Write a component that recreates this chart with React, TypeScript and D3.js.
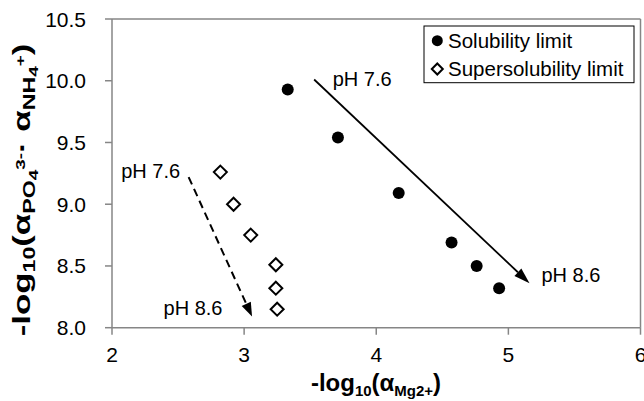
import React from "react";
import * as d3 from "d3";

const solX = [3.33, 3.71, 4.17, 4.57, 4.76, 4.93];
const solY = [9.93, 9.54, 9.09, 8.69, 8.5, 8.32];
const supX = [2.82, 2.92, 3.05, 3.24, 3.24, 3.25];
const supY = [9.26, 9.0, 8.75, 8.51, 8.32, 8.15];
const xTicks = [2, 3, 4, 5, 6];
const yTicks = [8.0, 8.5, 9.0, 9.5, 10.0, 10.5];
const arrows = [
  { x1: 3.53, y1: 10.01, x2: 5.16, y2: 8.36, dashed: false },
  { x1: 2.58, y1: 9.22, x2: 3.06, y2: 8.09, dashed: true },
];
const notes = [
  { x: 3.67, y: 9.96, text: "pH 7.6" },
  { x: 5.25, y: 8.37, text: "pH 8.6" },
  { x: 2.07, y: 9.21, text: "pH 7.6" },
  { x: 2.39, y: 8.1, text: "pH 8.6" },
];
const legendItems = ["Solubility limit", "Supersolubility limit"];

const W = 644;
const H = 401;
const L = 112, R = 640.5, T = 19, B = 327.7;
const FONT = "'Liberation Sans', Arial, sans-serif";
const AX = "#868686";

export default function App() {
  const x = d3.scaleLinear().domain([2, 6]).range([L, R]);
  const y = d3.scaleLinear().domain([8, 10.5]).range([B, T]);
  const diamond = (cx: number, cy: number, r: number) =>
    `M${cx},${cy - r}L${cx + r},${cy}L${cx},${cy + r}L${cx - r},${cy}Z`;

  const head = (a: typeof arrows[0], len: number, wid: number) => {
    const X1 = x(a.x1), Y1 = y(a.y1), X2 = x(a.x2), Y2 = y(a.y2);
    const dx = X2 - X1, dy = Y2 - Y1;
    const d = Math.hypot(dx, dy);
    const ux = dx / d, uy = dy / d;
    const bx = X2 - ux * len, by = Y2 - uy * len;
    const px = -uy * wid / 2, py = ux * wid / 2;
    return { X1, Y1, bx, by, pts: `${X2},${Y2} ${bx + px},${by + py} ${bx - px},${by - py}` };
  };

  return (
    <svg width={W} height={H} style={{ position: "absolute", left: 0, top: 0, background: "#fff" }} fontFamily={FONT}>
      <rect x={0} y={0} width={W} height={H} fill="#fff" />
      {/* frame */}
      <line x1={L} y1={T} x2={R} y2={T} stroke={AX} strokeWidth={1.5} />
      <line x1={R} y1={T} x2={R} y2={B} stroke={AX} strokeWidth={1.5} />
      <line x1={L} y1={B} x2={R} y2={B} stroke={AX} strokeWidth={1.5} />
      <line x1={L} y1={T} x2={L} y2={B} stroke={AX} strokeWidth={1.5} />
      {xTicks.map((t) => (
        <g key={"xt" + t}>
          <line x1={x(t)} x2={x(t)} y1={B} y2={B + 7} stroke={AX} strokeWidth={1.5} />
          <text x={x(t)} y={362} fontSize={21} textAnchor="middle" fill="#000">{t}</text>
        </g>
      ))}
      {yTicks.map((t) => (
        <g key={"yt" + t}>
          <line x1={L - 7} x2={L} y1={y(t)} y2={y(t)} stroke={AX} strokeWidth={1.5} />
          <text x={86} y={y(t) + 7.5} fontSize={21} textAnchor="end" fill="#000">{t.toFixed(1)}</text>
        </g>
      ))}
      {/* axis titles */}
      <text x={376} y={391} fontSize={24} fontWeight="bold" textAnchor="middle" fill="#000">
        -log<tspan fontSize={15} dy={5}>10</tspan>
        <tspan dy={-5}>(α</tspan>
        <tspan fontSize={15} dy={5}>Mg2+</tspan>
        <tspan dy={-5}>)</tspan>
      </text>
      <text transform={`translate(30,190) rotate(-90) scale(1.45,1)`} fontSize={24} fontWeight="bold" textAnchor="middle" fill="#000">
        -log<tspan fontSize={16} dy={5}>10</tspan>
        <tspan dy={-5}>(α</tspan>
        <tspan fontSize={16} dy={5}>PO</tspan>
        <tspan fontSize={13} dy={3}>4</tspan>
        <tspan fontSize={13} dy={-13}>3-</tspan>
        <tspan dy={5}>·  α</tspan>
        <tspan fontSize={16} dy={5}>NH</tspan>
        <tspan fontSize={13} dy={3}>4</tspan>
        <tspan fontSize={13} dy={-13}>+</tspan>
        <tspan dy={5}>)</tspan>
      </text>
      {/* arrows */}
      {arrows.map((a, i) => {
        const h = head(a, a.dashed ? 14 : 16, 10);
        return (
          <g key={"a" + i}>
            <line x1={h.X1} y1={h.Y1} x2={h.bx} y2={h.by} stroke="#000" strokeWidth={a.dashed ? 2 : 1.75}
              strokeDasharray={a.dashed ? "8,5" : undefined} />
            <polygon points={h.pts} fill="#000" />
          </g>
        );
      })}
      {notes.map((n, i) => (
        <text key={"n" + i} x={x(n.x)} y={y(n.y)} fontSize={20} fill="#000">{n.text}</text>
      ))}
      {/* series */}
      {solX.map((v, i) => (
        <circle key={"s" + i} cx={x(v)} cy={y(solY[i])} r={6} fill="#000" />
      ))}
      {supX.map((v, i) => (
        <path key={"d" + i} d={diamond(x(v), y(supY[i]), 6.5)} fill="#fff" stroke="#000" strokeWidth={2} />
      ))}
      {/* legend */}
      <rect x={424} y={26} width={210} height={56.7} fill="#fff" stroke="#000" strokeWidth={1} />
      <circle cx={437.3} cy={40.7} r={5.5} fill="#000" />
      <path d={diamond(437.3, 69, 5.5)} fill="#fff" stroke="#000" strokeWidth={2} />
      {legendItems.map((t, i) => (
        <text key={"l" + i} x={448} y={47.5 + i * 28.3} fontSize={20.5} fill="#000">{t}</text>
      ))}
    </svg>
  );
}
